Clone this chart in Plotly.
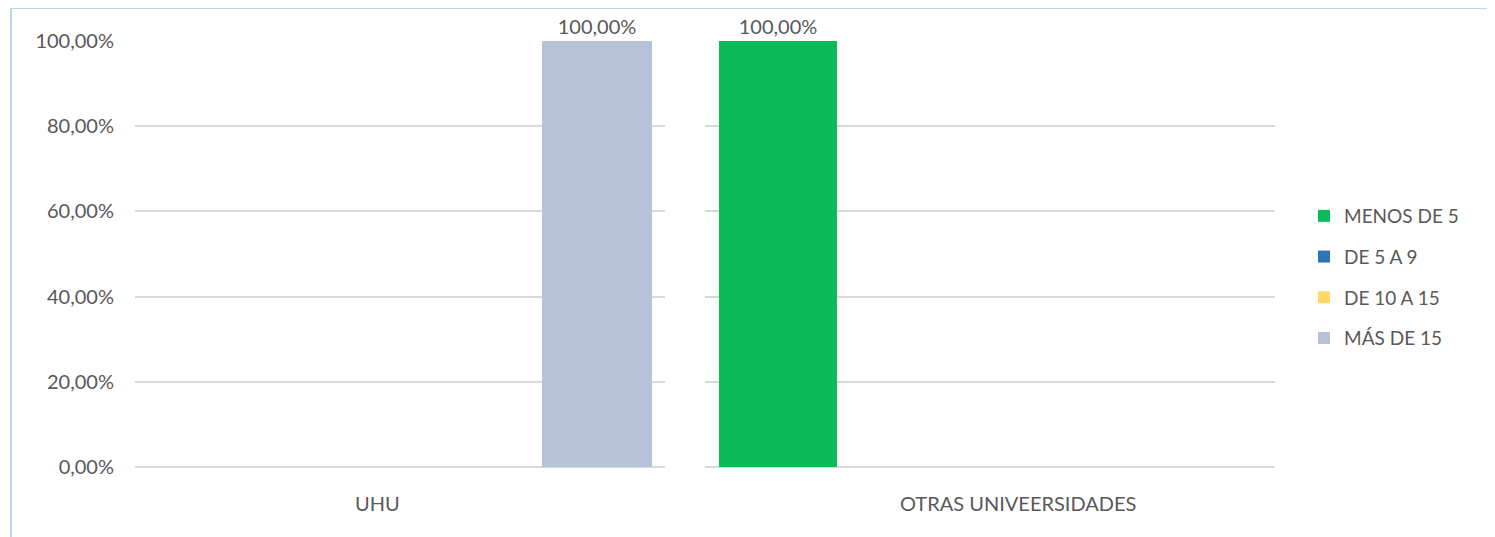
import plotly.graph_objects as go

categories = ["UHU", "OTRAS UNIVEERSIDADES"]
series_names = ["MENOS DE 5", "DE 5 A 9", "DE 10 A 15", "MÁS DE 15"]
uhu_values = [0.0, 0.0, 0.0, 1.0]
otras_values = [1.0, 0.0, 0.0, 0.0]
colors = ["#0BBA58", "#2E75B6", "#FFD966", "#B6C2D5"]
y_ticks = [0, 0.2, 0.4, 0.6, 0.8, 1.0]

FONT = "Lato, Calibri, Carlito, 'Open Sans', sans-serif"
TXT = "#595959"
FS = 20


def lbl(v):
    return (f"{v*100:.2f}%".replace(".", ",")) if v > 0 else ""


fig = go.Figure()
for i, name in enumerate(series_names):
    fig.add_trace(go.Bar(
        x=[categories[0]], y=[uhu_values[i]], name=name, marker_color=colors[i],
        marker_line_width=0, legendgroup=name, showlegend=True,
        text=[lbl(uhu_values[i])], textposition="outside", cliponaxis=False,
        textfont=dict(size=FS, color=TXT, family=FONT),
        xaxis="x", yaxis="y"))
for i, name in enumerate(series_names):
    fig.add_trace(go.Bar(
        x=[categories[1]], y=[otras_values[i]], name=name, marker_color=colors[i],
        marker_line_width=0, legendgroup=name, showlegend=False,
        text=[lbl(otras_values[i])], textposition="outside", cliponaxis=False,
        textfont=dict(size=FS, color=TXT, family=FONT),
        xaxis="x2", yaxis="y2"))

# page body has an 8px margin; positions below are in target-image pixels
OFF = 8
W, H = 1495, 537
PL, PR, PT, PB = 135, 1275, 41, 467  # plot area in image px
L = PL - OFF
T = PT - OFF
R = W - (PR - OFF)
B = H - (PB - OFF)
pw = PR - PL
ph = PB - PT


def px_x(p):
    return (p - PL) / pw


def px_y(p):
    return (PB - p) / ph


yax = dict(range=[0, 1], tickvals=y_ticks, tickformat=".2%", showgrid=True,
           gridcolor="#D9D9D9", gridwidth=1.5, zeroline=True, zerolinecolor="#D9D9D9",
           zerolinewidth=1.5, showline=False, fixedrange=True)

fig.update_layout(
    width=W, height=H,
    margin=dict(l=L, r=R, t=T, b=B),
    paper_bgcolor="white", plot_bgcolor="white",
    separators=",.",
    barmode="group", bargap=0.2, bargroupgap=0,
    font=dict(family=FONT, size=FS, color=TXT),
    xaxis=dict(domain=[0, 530 / pw], range=[-0.54, 0.4236], showticklabels=False,
               showgrid=False, zeroline=False, showline=False),
    xaxis2=dict(domain=[570 / pw, 1], range=[-0.4237, 0.5424], showticklabels=False,
                showgrid=False, zeroline=False, showline=False),
    yaxis=dict(**yax, showticklabels=True, ticklabelstandoff=20,
               tickfont=dict(size=FS, color=TXT, family=FONT)),
    yaxis2=dict(**yax, showticklabels=False, anchor="x2", matches="y"),
    legend=dict(x=px_x(1304), xanchor="left", y=px_y(197), yanchor="top",
                font=dict(size=19, color=TXT, family=FONT), traceorder="grouped",
                tracegroupgap=13, itemwidth=30, bgcolor="rgba(0,0,0,0)"),
    showlegend=True,
)

fig.add_annotation(text=categories[0], xref="x domain", yref="paper",
                   x=(377 - PL) / 530, y=px_y(503), showarrow=False,
                   font=dict(size=FS, color=TXT, family=FONT), yanchor="middle")
fig.add_annotation(text=categories[1], xref="x2 domain", yref="paper",
                   x=(1018 - 705) / 570, y=px_y(503), showarrow=False,
                   font=dict(size=FS, color=TXT, family=FONT), yanchor="middle")

# light blue chart border
fig.add_shape(type="rect", xref="paper", yref="paper",
              x0=px_x(11), x1=px_x(1580),
              y0=px_y(580), y1=px_y(8),
              line=dict(color="#BDD7EE", width=2), fillcolor="rgba(0,0,0,0)", layer="below")

fig.write_html("out.html")
